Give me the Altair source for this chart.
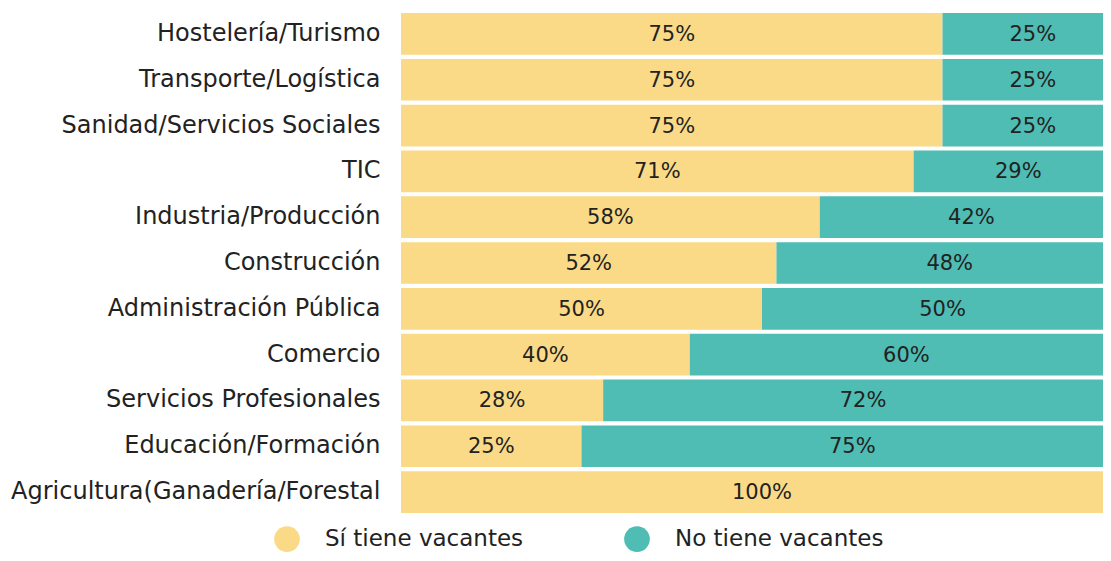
import altair as alt
import pandas as pd

categories = [
    "Hostelería/Turismo",
    "Transporte/Logística",
    "Sanidad/Servicios Sociales",
    "TIC",
    "Industria/Producción",
    "Construcción",
    "Administración Pública",
    "Comercio",
    "Servicios Profesionales",
    "Educación/Formación",
    "Agricultura(Ganadería/Forestal",
]
si_vals = [75, 75, 75, 71, 58, 52, 50, 40, 28, 25, 100]
no_vals = [25, 25, 25, 29, 42, 48, 50, 60, 72, 75, 0]
series = ["Sí tiene vacantes", "No tiene vacantes"]
colors = ["#FADA87", "#4FBDB3"]

rows = []
for c, s, n in zip(categories, si_vals, no_vals):
    rows.append({"cat": c, "serie": series[0], "val": s, "ord": 0})
    rows.append({"cat": c, "serie": series[1], "val": n, "ord": 1})
df = pd.DataFrame(rows)

FONT = "DejaVu Sans"
XMAX = 100 * 702 / 722  # visible part of the axis (chart is cropped at the right)

base = alt.Chart(df).transform_stack(
    stack="val", groupby=["cat"], sort=[alt.SortField("ord")], as_=["x0", "x1"]
).transform_calculate(mid="(datum.x0 + datum.x1) / 2")

xscale = alt.Scale(domain=[0, XMAX], nice=False, zero=True)

y_enc = alt.Y(
    "cat:N",
    sort=categories,
    title=None,
    scale=alt.Scale(paddingInner=0.09, paddingOuter=0.045),
    axis=alt.Axis(
        domain=False, ticks=False, labelFontSize=24, labelFont=FONT,
        labelColor="#222222", labelPadding=21, labelLimit=500,
    ),
)

bars = base.mark_bar(clip=True).encode(
    x=alt.X("x0:Q", scale=xscale, axis=None),
    x2="x1:Q",
    y=y_enc,
    color=alt.Color(
        "serie:N",
        scale=alt.Scale(domain=series, range=colors),
        legend=alt.Legend(
            title=None, orient="none", direction="horizontal",
            legendX=-127, legendY=515, symbolType="circle", symbolSize=660,
            symbolStrokeWidth=0, labelFontSize=23, labelFont=FONT,
            labelColor="#222222", labelOffset=25, columnPadding=100,
            padding=0, symbolOpacity=1, labelLimit=400,
        ),
    ),
)

texts = base.transform_filter("datum.val > 0").transform_calculate(
    label="datum.val + '%'"
).mark_text(fontSize=21, font=FONT, color="#222222", dy=1).encode(
    x=alt.X("mid:Q", scale=xscale, axis=None),
    y=alt.Y("cat:N", sort=categories),
    text=alt.Text("label:N"),
)

chart = alt.layer(bars, texts).properties(
    width=702, height=504,
    autosize=alt.AutoSizeParams(type="none"),
    padding={"left": 393, "top": 3, "right": 0, "bottom": 38},
).configure_view(stroke=None)

chart.save("out.html", embed_options={"renderer": "svg", "actions": False})
